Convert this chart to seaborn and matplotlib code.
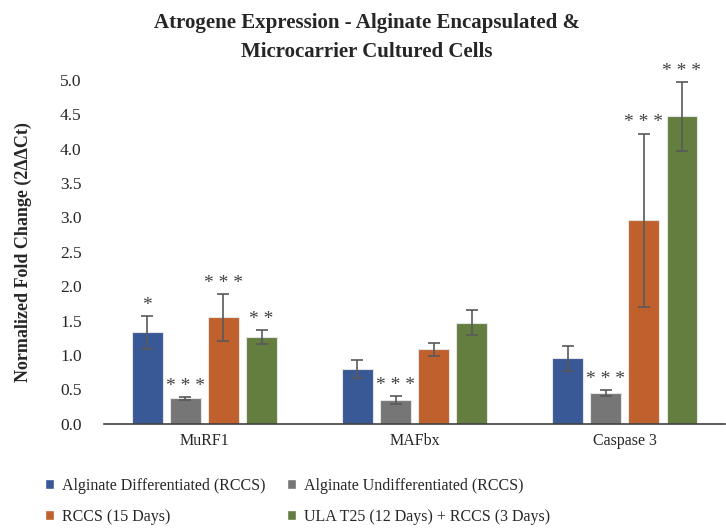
import numpy as np
import pandas as pd
import seaborn as sns
import matplotlib.pyplot as plt
from matplotlib.patches import Patch

# ---------- data ----------
genes = ["MuRF1", "MAFbx", "Caspase 3"]
groups = ["Alginate Differentiated (RCCS)", "Alginate Undifferentiated (RCCS)",
          "RCCS (15 Days)", "ULA T25 (12 Days) + RCCS (3 Days)"]
colors = ["#385896", "#767676", "#C0602C", "#637E3F"]

alg_diff = [1.33, 0.80, 0.95]
alg_undiff = [0.37, 0.34, 0.45]
rccs_15 = [1.55, 1.08, 2.96]
ula_rccs = [1.26, 1.47, 4.47]

alg_diff_err = [0.24, 0.13, 0.18]
alg_undiff_err = [0.02, 0.06, 0.04]
rccs_15_err = [0.34, 0.10, 1.26]
ula_rccs_err = [0.10, 0.18, 0.50]

alg_diff_sig = ["*", "", ""]
alg_undiff_sig = ["***", "***", "***"]
rccs_15_sig = ["***", "", "***"]
ula_rccs_sig = ["**", "", "***"]

values = [alg_diff, alg_undiff, rccs_15, ula_rccs]
errors = [alg_diff_err, alg_undiff_err, rccs_15_err, ula_rccs_err]
sigs = [alg_diff_sig, alg_undiff_sig, rccs_15_sig, ula_rccs_sig]

rows = []
for g, vals in zip(groups, values):
    for gene, v in zip(genes, vals):
        rows.append({"gene": gene, "group": g, "value": v})
df = pd.DataFrame(rows)

# ---------- plot ----------
sns.set_style("white")
plt.rcParams["font.family"] = ["Liberation Serif", "DejaVu Serif"]

fig = plt.figure(figsize=(7.26, 5.29), dpi=100)
ax = fig.add_axes([0.143, 0.199, 0.856, 0.650])

sns.barplot(data=df, x="gene", y="value", hue="group", hue_order=groups,
            palette=colors, saturation=1, width=0.725, gap=0.2, errorbar=None,
            edgecolor="#e4e4e4", linewidth=0.8, legend=False, ax=ax)

for container, errs, sg in zip(ax.containers, errors, sigs):
    for bar, e, s in zip(container, errs, sg):
        cx = bar.get_x() + bar.get_width() / 2
        h = bar.get_height()
        ax.errorbar(cx, h, yerr=e, color="#595959", capsize=4, elinewidth=1.2,
                    capthick=1.2, clip_on=False)
        if s:
            ax.text(cx, h + e + 0.03, " ".join(s), ha="center", va="bottom",
                    fontsize=14, color="#404040", clip_on=False)

ax.set_ylim(0, 5.0)
ax.set_yticks(np.arange(0, 5.01, 0.5))
ax.set_yticklabels([f"{t:.1f}" for t in np.arange(0, 5.01, 0.5)], fontsize=12.5, color="#262626")
ax.tick_params(axis="x", labelsize=11.5, colors="#262626", length=0, pad=7)
ax.tick_params(axis="y", length=0, pad=16)
ax.set_xlabel("")
ax.set_ylabel("Normalized Fold Change (2ΔΔCt)", fontsize=13, fontweight="bold",
              color="#262626", labelpad=20)
for sp in ["top", "right", "left"]:
    ax.spines[sp].set_visible(False)
ax.spines["bottom"].set_color("#404040")
ax.spines["bottom"].set_linewidth(1.2)

fig.suptitle("Atrogene Expression - Alginate Encapsulated &\nMicrocarrier Cultured Cells",
             fontsize=15, fontweight="bold", color="#262626", y=0.975, x=0.505,
             linespacing=1.6)

handles = [Patch(facecolor=c) for c in colors]
order = [0, 2, 1, 3]
fig.legend([handles[i] for i in order], [groups[i] for i in order], ncol=2,
           loc="lower left", bbox_to_anchor=(0.042, -0.019), frameon=False,
           fontsize=11.5, handlelength=0.6, handleheight=0.6, handletextpad=0.5,
           columnspacing=1.3, labelspacing=0.95)

fig.savefig("out.png", dpi=100)
